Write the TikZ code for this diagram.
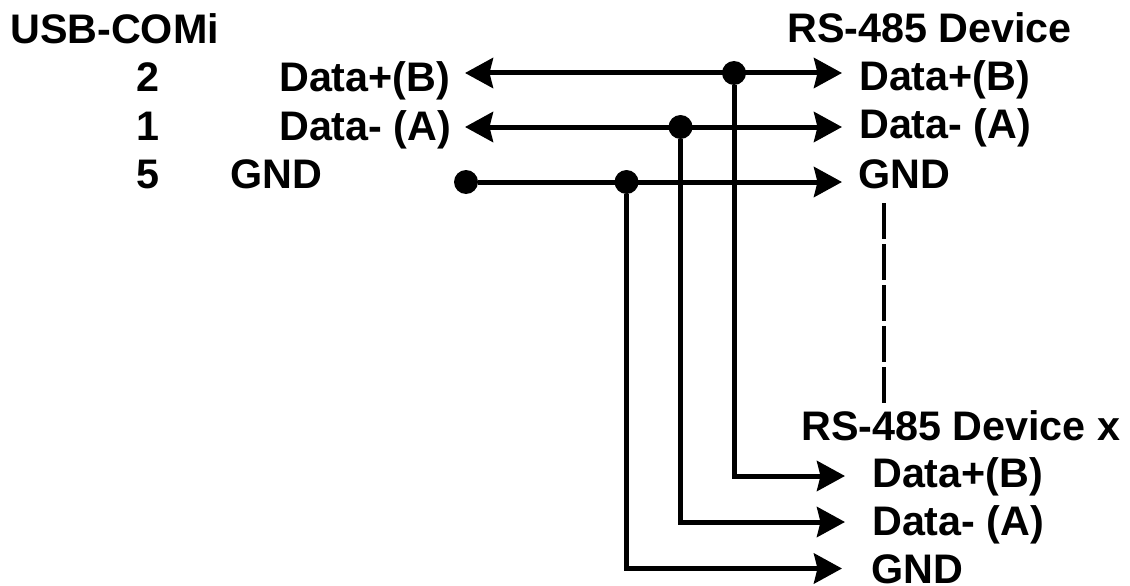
\documentclass[tikz,border=0pt]{standalone}
\usepackage{fontspec}
\setmainfont{Liberation Sans}
\usetikzlibrary{arrows.meta}
\definecolor{ink}{RGB}{0,0,0}
\tikzset{
 px/.style={x=1pt,y=-1pt},
 lab/.style={inner sep=0pt,font=\fontsize{41.3}{46}\selectfont\bfseries,text=ink,anchor=base west},
 wire/.style={line width=5pt,draw=ink},
 head/.style={-{Stealth[length=28pt,width=30pt,inset=3.5pt]}},
 bihead/.style={{Stealth[length=28pt,width=30pt,inset=3.5pt]}-{Stealth[length=28pt,width=30pt,inset=3.5pt]}},
 dot/.style={circle,fill=ink,inner sep=0pt,minimum size=24pt},
}
\begin{document}
\begin{tikzpicture}[px]
\useasboundingbox (0,0) rectangle (1130,586);
\fill[white] (0,0) rectangle (1130,586);
\node[lab] (t1) at (10,44) {USB-COMi};
\node[lab] (p2) at (136,92) {2};
\node[lab] (p1) at (136,140) {1};
\node[lab] (p5) at (136,188) {5};
\node[lab] (a1) at (279,92) {Data+(B)};
\node[lab] (a2) at (279,140) {Data- (A)};
\node[lab] (a3) at (230,188) {GND};
\node[lab] (t2) at (787,43) {RS-485 Device};
\node[lab] (b1) at (859,90) {Data+(B)};
\node[lab] (b2) at (859,138) {Data- (A)};
\node[lab] (b3) at (858,188) {GND};
\node[lab] (t3) at (801,440) {RS-485 Device x};
\node[lab] (c1) at (872,487) {Data+(B)};
\node[lab] (c2) at (872,535) {Data- (A)};
\node[lab] (c3) at (871,583) {GND};
\coordinate (l1) at (465,73);
\coordinate (r1) at (842,73);
\coordinate (l2) at (465,127);
\coordinate (r2) at (842,127);
\coordinate (r3) at (842,182);
\coordinate (e1) at (845,476);
\coordinate (e2) at (845,522);
\coordinate (e3) at (842,568.5);
\node[dot] (d1) at (734,73) {};
\node[dot] (d2) at (680.5,127) {};
\node[dot] (d3) at (626.5,182) {};
\node[dot] (d0) at (466,182) {};
\draw[wire,bihead] (l1) -- (r1);
\draw[wire,bihead] (l2) -- (r2);
\draw[wire,head] (d0) -- (r3);
\draw[wire,head] (d1) |- (e1);
\draw[wire,head] (d2) |- (e2);
\draw[wire,head] (d3) |- (e3);
\coordinate (g1) at (884,203);
\coordinate (g2) at (884,403);
\draw[line width=3.5pt,draw=ink,dash pattern=on 36pt off 5pt] (g1) -- (g2);
\end{tikzpicture}
\end{document}
